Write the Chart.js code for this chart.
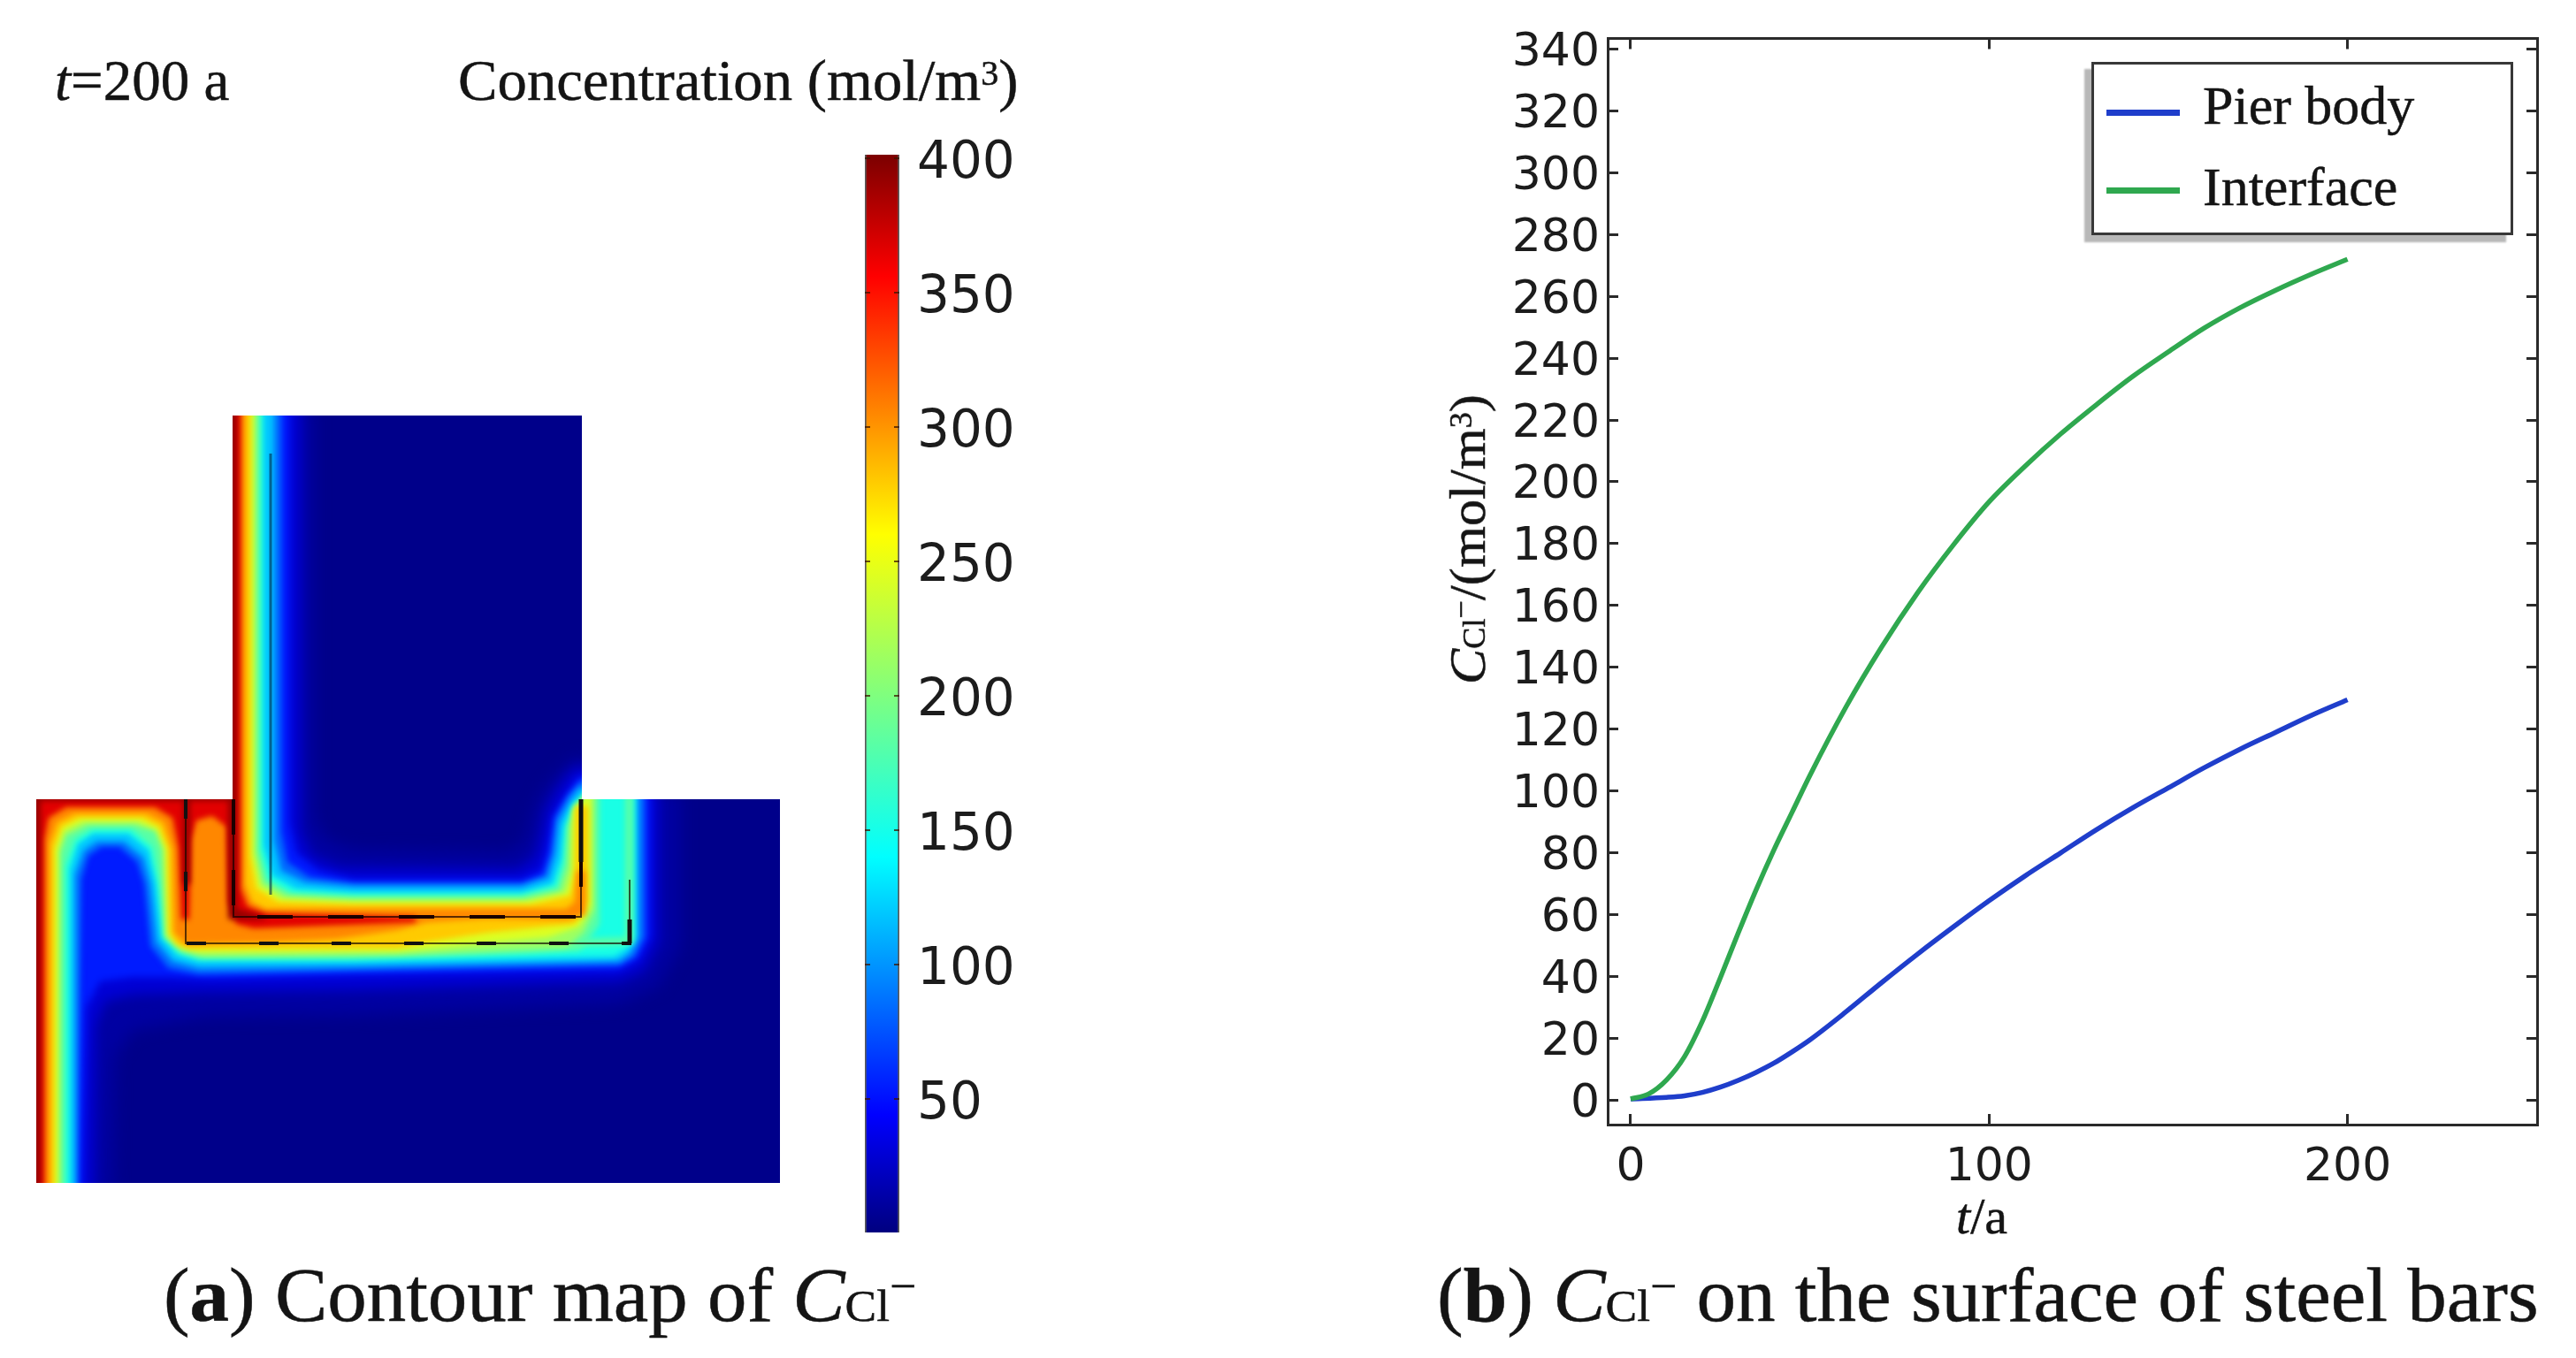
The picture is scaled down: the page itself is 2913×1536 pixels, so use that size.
<!DOCTYPE html>
<html><head><meta charset="utf-8">
<style>
html,body{margin:0;padding:0;background:#fff;width:2913px;height:1536px;overflow:hidden}
canvas{position:absolute;filter:blur(.7px)}
.t{position:absolute;font-family:"Liberation Serif",serif;color:#141414;line-height:1;white-space:nowrap;transform-origin:0 0;-webkit-text-stroke:.5px #141414;filter:blur(.5px)}
.sm{font-size:.6em}
.up{position:relative;top:-.42em;font-size:.6em}
#legend{position:absolute;left:2365px;top:70px;width:471px;height:190px;border:3px solid #383838;background:#fff;box-shadow:-8px 8px 2px #b8b8b8;z-index:5}
#legend div{position:absolute}
</style>
<script src="https://cdn.jsdelivr.net/npm/chart.js@4"></script>
</head><body>
<canvas id="contour" width="880" height="910" style="left:21px;top:450px;width:880px;height:910px"></canvas>
<canvas id="colorbar" width="260" height="1270" style="left:960px;top:150px;width:260px;height:1270px"></canvas>
<canvas id="lines" width="1263" height="1400" style="left:1650px;top:0;width:1263px;height:1400px"></canvas>
<div id="legend"></div>
<div class="t" data-x="62" data-b="113" data-s="65" data-w="197"><i>t</i>=200 a</div>
<div class="t" data-x="518" data-b="113" data-s="66" data-w="634">Concentration (mol/m<span class="up">3</span>)</div>
<div class="t" data-x="185" data-b="1494" data-s="86" data-w="851">(<b>a</b>) Contour map of <i>C</i><span class="sm">Cl</span><span class="up">−</span></div>
<div class="t" data-x="1625" data-b="1494" data-s="86" data-w="1246">(<b>b</b>) <i>C</i><span class="sm">Cl</span><span class="up">−</span> on the surface of steel bars</div>
<div class="t" data-x="2212" data-b="1396" data-s="58" data-w="58"><i>t</i>/a</div>
<div class="t" data-rot="1" data-x="1680" data-b="774" data-s="58" data-w="328"><i>C</i><span class="sm">Cl</span><span class="up">−</span>/(mol/m<span class="up">3</span>)</div>
<script>
// ---------- line chart values ----------
const seriesNames = ['Pier body', 'Interface'];
const pierT = [0,10,15,20,25,30,35,40,45,50,60,70,80,90,100,110,120,130,140,150,160,170,180,190,200];
const pierC = [0.4,0.9,1.4,2.5,4.2,6.4,9,12,15.6,19.5,28.5,38,47.2,56,64.5,72.5,80,87.5,94.5,101,107.5,113.5,119,124.5,129.5];
const interT = [0,5,10,15,20,25,30,35,40,45,50,60,70,80,90,100,110,120,130,140,150,160,170,180,190,200];
const interC = [0.4,2,6.5,14,25.5,39.5,54,68,81,93,105,127,146.5,164,179.5,193.5,205,215.5,225,234,242,249.7,256.3,262,267.2,272];
const yTickStep = 20, xTickStep = 100;

// ---------- colour bar values ----------
const barRange = [0.3, 401.3];
const barTicks = [50,100,150,200,250,300,350,400];
const jetStops = [[0,'#00007f'],[44,'#0000ff'],[140,'#00ffff'],[200,'#7fff7f'],[260,'#ffff00'],[356,'#ff0000'],[400,'#7f0000']];

// ---------- contour map: section outline and iso-concentration curves (section coordinates) ----------
const section = [[0,434],[222,434],[222,0],[617,0],[617,434],[841,434],[841,868],[0,868]];
const iso10 = [[314,-10],[314,455],[327,480],[359,492],[534,495],[554,480],[559,455],[569,430],[584,410],[604,390],[624,385],[624,425],[729,425],[729,600],[704,645],[659,665],[359,678],[189,680],[109,695],[89,725],[86,880],[-11,880],[-11,425],[214,425],[214,-10]];
const iso25 = [[299,-10],[299,470],[311,498],[344,512],[544,514],[564,500],[571,475],[577,445],[591,420],[607,400],[624,395],[624,425],[704,425],[704,595],[687,628],[659,640],[359,650],[189,652],[109,655],[78,662],[67,690],[65,880],[-11,880],[-11,425],[214,425],[214,-10]];
const iso44 = [[286,-10],[286,460],[294,495],[319,515],[359,525],[549,525],[571,515],[579,490],[584,455],[599,430],[612,410],[624,405],[624,425],[694,425],[694,590],[681,615],[659,627],[359,633],[194,637],[149,635],[109,635],[72,640],[56,670],[52,880],[-11,880],[-11,425],[214,425],[214,-10]];
const iso70 = [[277,-10],[277,470],[284,505],[309,522],[359,529],[549,529],[574,520],[582,495],[587,455],[601,430],[614,415],[624,410],[624,425],[688,425],[688,590],[677,612],[659,622],[359,628],[184,632],[149,625],[129,600],[122,530],[114,505],[94,488],[74,488],[59,498],[51,525],[47,880],[-11,880],[-11,425],[214,425],[214,-10]];
const iso100 = [[269,-10],[269,480],[277,515],[304,528],[359,533],[549,533],[579,523],[587,495],[591,460],[604,435],[614,422],[624,420],[624,425],[681,425],[681,590],[672,608],[659,617],[359,623],[184,625],[154,617],[136,595],[129,530],[121,500],[99,482],[69,482],[54,492],[44,520],[44,880],[-11,880],[-11,425],[214,425],[214,-10]];
const iso140 = [[257,-10],[257,485],[267,520],[294,535],[359,540],[549,540],[584,530],[594,500],[597,465],[607,440],[619,430],[624,425],[676,425],[676,590],[667,604],[654,612],[359,617],[184,617],[159,610],[142,590],[136,530],[127,492],[104,473],[64,473],[47,485],[38,515],[38,880],[-11,880],[-11,425],[214,425],[214,-10]];
const iso170 = [[253,-10],[253,490],[262,525],[289,540],[359,543],[549,543],[589,533],[597,505],[600,465],[609,440],[619,430],[624,425],[637,425],[637,575],[627,590],[614,605],[559,608],[359,614],[184,614],[162,607],[145,590],[139,530],[131,488],[107,468],[64,468],[44,480],[33,510],[33,880],[-11,880],[-11,425],[214,425],[214,-10]];
const iso170b = [[666,425],[675,425],[675,598],[599,602],[599,592],[666,590]];
const iso200 = [[249,-10],[249,492],[257,528],[284,543],[359,547],[549,547],[592,538],[601,510],[603,465],[611,442],[617,435],[624,425],[631,425],[631,560],[619,585],[599,602],[409,610],[189,612],[164,605],[146,590],[142,490],[134,470],[109,463],[59,463],[34,475],[27,495],[27,880],[-11,880],[-11,425],[214,425],[214,-10]];
const iso230 = [[245,-10],[245,495],[253,532],[279,547],[359,550],[554,550],[599,540],[606,515],[607,445],[616,438],[627,425],[627,555],[614,578],[579,590],[409,606],[184,607],[164,602],[149,588],[146,490],[137,468],[114,459],[54,459],[31,470],[24,492],[24,880],[-11,880],[-11,425],[214,425],[214,-10]];
const iso260 = [[242,-10],[242,498],[249,535],[274,550],[359,553],[559,553],[604,543],[609,520],[610,442],[624,442],[624,550],[609,575],[576,578],[509,585],[439,596],[409,602],[174,603],[159,598],[151,585],[149,490],[139,465],[119,455],[49,455],[29,465],[20,490],[20,880],[-11,880],[-11,425],[214,425],[214,-10]];
const iso300 = [[236,-10],[236,530],[244,550],[259,558],[599,558],[609,550],[611,515],[621,515],[621,565],[599,570],[509,569],[442,573],[409,582],[339,592],[259,596],[169,598],[156,585],[154,490],[144,460],[124,450],[44,450],[24,460],[15,485],[15,880],[-11,880],[-11,425],[214,425],[214,-10]];
const iso350 = [[231,-10],[231,535],[239,555],[259,563],[429,567],[429,573],[246,580],[226,575],[217,550],[215,465],[199,453],[181,458],[175,480],[173,570],[164,570],[161,490],[154,455],[134,443],[34,443],[14,455],[9,480],[9,880],[-11,880],[-11,425],[214,425],[214,-10]];
const iso385 = [[227,-10],[227,558],[259,567],[259,570],[217,570],[217,436],[174,436],[174,530],[166,530],[166,436],[5,436],[5,880],[-11,880],[-11,425],[214,425],[214,-10]];
const isoLevels = [[10,12,iso10],[25,30,iso25],[44,54,iso44],[70,84,iso70],[100,118,iso100],[140,152,iso140],[170,182,iso170],[170,182,iso170b],[200,214,iso200],[230,244,iso230],[260,280,iso260],[300,305,iso300],[350,366,iso350],[385,392,iso385]];
const outerBar = [[169,434],[169,597],[671,597],[671,525]];
const innerBar = [[223,434],[223,567],[616,567],[616,434]];
const pierBar = [[265,43],[265,542]];
const innerBarHeavy = [[616,434],[616,505]];
const outerBarHeavy = [[671,570],[671,597]];

function jet(v){
  const hex=c=>[1,3,5].map(i=>parseInt(c.substr(i,2),16));
  for(let i=1;i<jetStops.length;i++){
    if(v<=jetStops[i][0]){
      const a=jetStops[i-1],b=jetStops[i],k=(v-a[0])/(b[0]-a[0]),A=hex(a[1]),B=hex(b[1]);
      return 'rgb('+A.map((c,j)=>Math.round(c+(B[j]-c)*k)).join(',')+')';
    }
  }
  return jetStops[jetStops.length-1][1];
}
const pts=a=>a.map(p=>({x:p[0],y:p[1]}));
const zipXY=(x,y)=>x.map((v,i)=>({x:v,y:y[i]}));
const TICK='#2a2a2a', TXT='#1c1c1c', FONT='"DejaVu Sans"';
Chart.defaults.devicePixelRatio=1;
Chart.defaults.animation=false;

// nudges tick label rows so the digits centre on their tick marks
const labelNudge=(id,dy)=>({id:'nudge'+dy,beforeDraw(chart){
  id.forEach(k=>chart.scales[k].getLabelItems().forEach(it=>{if(!it.nudged){it.textOffset+=dy;it.nudged=true;}}));
}});

// ---------- contour ----------
const isoPlugin={id:'isoFill',
  beforeDatasetDraw(chart,args){
    const ds=chart.data.datasets[args.index];
    if(ds.isoColor===undefined) return;
    const c=chart.ctx, trace=d=>{c.beginPath();d.forEach((e,i)=>i?c.lineTo(e.x,e.y):c.moveTo(e.x,e.y));c.closePath();};
    c.save();
    trace(chart.getDatasetMeta(0).data); c.clip();
    if(ds.isoSoft) c.filter='blur('+ds.isoSoft+'px)';
    trace(args.meta.data); c.fillStyle=ds.isoColor; c.fill();
    c.restore();
    return false;
  }};
const softness=level=>level<=10?9:level<=25?7:level<=44?4:3;
const cDatasets=[{label:'Section',data:pts(section),isoColor:'#00008a',isoSoft:0,order:100}];
isoLevels.forEach((l,i)=>cDatasets.push({label:'C≥'+l[0],data:pts(l[2]),isoColor:jet(l[1]),isoSoft:softness(l[0]),order:90-i}));
const bar=(name,data,w,col,dash,o)=>({label:name,data:pts(data),borderColor:col,borderWidth:w,borderDash:dash||[],order:o});
cDatasets.push(bar('Pier bar',pierBar,3,'rgba(0,40,70,.6)',null,-1));
cDatasets.push(bar('Outer bar',outerBar,2,'rgba(20,10,0,.7)',null,-2));
cDatasets.push(bar('Inner bar',innerBar,2,'rgba(20,0,0,.7)',null,-3));
cDatasets.push(bar('Outer bar dash',outerBar,4,'#111',[22,60],-4));
cDatasets.push(bar('Inner bar dash',innerBar,4,'#1a0000',[40,40],-5));
cDatasets.push(bar('Inner bar heavy',innerBarHeavy,5,'#111',null,-6));
cDatasets.push(bar('Outer bar heavy',outerBarHeavy,5,'#111',null,-7));
new Chart(document.getElementById('contour'),{type:'scatter',plugins:[isoPlugin],
  data:{datasets:cDatasets.map(d=>Object.assign({showLine:true,pointRadius:0,fill:false,borderWidth:0,clip:false},d))},
  options:{responsive:false,layout:{padding:0},plugins:{legend:{display:false},tooltip:{enabled:false}},
    scales:{x:{type:'linear',min:-20,max:860,display:false},y:{type:'linear',min:-20,max:890,reverse:true,display:false}}}});

// ---------- colour bar ----------
const useBarTicks=s=>{s.ticks=barTicks.map(v=>({value:v}));};
new Chart(document.getElementById('colorbar'),{type:'bar',plugins:[labelNudge(['y'],7)],
  data:{labels:['Concentration'],datasets:[{data:[barRange],barPercentage:1,categoryPercentage:1,
    borderWidth:{left:2,right:2,top:0,bottom:0},borderSkipped:false,borderColor:'#5a5a5a',
    backgroundColor(ctx){
      const ch=ctx.chart; if(!ch.chartArea) return '#000';
      const y=ch.scales.y,g=ch.ctx.createLinearGradient(0,y.getPixelForValue(0),0,y.getPixelForValue(400));
      jetStops.forEach(s=>g.addColorStop(s[0]/400,s[1]));
      return g;}}]},
  options:{responsive:false,layout:{padding:{top:25,bottom:26,left:18}},plugins:{legend:{display:false},tooltip:{enabled:false}},
    scales:{
      x:{display:false},
      y:{position:'right',min:barRange[0],max:barRange[1],afterBuildTicks:useBarTicks,afterFit:s=>{s.width=203;s.paddingTop=0;s.paddingBottom=0;},
        grid:{drawOnChartArea:false,drawTicks:true,tickLength:-6,color:'rgba(60,20,0,.75)',lineWidth:2,z:1},
        border:{display:false},
        ticks:{padding:26,color:TXT,autoSkip:false,maxRotation:0,font:{family:FONT,size:58}}},
      y2:{position:'left',min:barRange[0],max:barRange[1],afterBuildTicks:useBarTicks,afterFit:s=>{s.width=0;s.paddingTop=0;s.paddingBottom=0;},
        grid:{drawOnChartArea:false,drawTicks:true,tickLength:-6,color:'rgba(60,20,0,.75)',lineWidth:2,z:1},
        border:{display:false},
        ticks:{display:false}}}}});

// ---------- curves ----------
const lineColors=['#1f3ecb','#2fa84f'];
const xr={min:-6.4,max:252.9}, yr={min:-7.9,max:343.4};
const gridOpt={drawOnChartArea:false,drawTicks:true,tickLength:-12,color:TICK,lineWidth:3};
const bord={display:true,color:TICK,width:3};
const lineChart=new Chart(document.getElementById('lines'),{type:'scatter',plugins:[labelNudge(['y'],5)],
  data:{datasets:[
    {label:seriesNames[0],data:zipXY(pierT,pierC),borderColor:lineColors[0],backgroundColor:lineColors[0],order:1},
    {label:seriesNames[1],data:zipXY(interT,interC),borderColor:lineColors[1],backgroundColor:lineColors[1],order:0}
  ].map(d=>Object.assign({showLine:true,pointRadius:0,borderWidth:5.5,cubicInterpolationMode:'monotone',fill:false},d))},
  options:{responsive:false,layout:{padding:{top:43.5,right:44,left:0,bottom:0}},plugins:{legend:{display:false},tooltip:{enabled:false}},
    scales:{
      x:{type:'linear',position:'bottom',min:xr.min,max:xr.max,afterFit:s=>{s.height=128;s.paddingLeft=0;s.paddingRight=0;},grid:gridOpt,border:bord,
        ticks:{stepSize:xTickStep,includeBounds:false,padding:30,color:TXT,maxRotation:0,autoSkip:false,font:{family:FONT,size:52}}},
      x2:{type:'linear',position:'top',min:xr.min,max:xr.max,afterFit:s=>{s.height=0;s.paddingLeft=0;s.paddingRight=0;},grid:gridOpt,border:bord,
        ticks:{stepSize:xTickStep,includeBounds:false,display:false}},
      y:{type:'linear',position:'left',min:yr.min,max:yr.max,afterFit:s=>{s.width=168;s.paddingTop=0;s.paddingBottom=0;},grid:gridOpt,border:bord,
        ticks:{stepSize:yTickStep,includeBounds:false,padding:21,color:TXT,autoSkip:false,maxRotation:0,font:{family:FONT,size:52}}},
      y2:{type:'linear',position:'right',min:yr.min,max:yr.max,afterFit:s=>{s.width=0;s.paddingTop=0;s.paddingBottom=0;},grid:gridOpt,border:bord,
        ticks:{stepSize:yTickStep,includeBounds:false,display:false}}}}});

// ---------- legend from the chart's datasets ----------
const lg=document.getElementById('legend');
lineChart.data.datasets.forEach((d,i)=>{
  const m=document.createElement('div');
  m.style.cssText='left:14px;top:'+(51+i*88)+'px;width:83px;height:7px;background:'+d.borderColor;
  lg.appendChild(m);
  const t=document.createElement('div');
  t.className='t';t.textContent=d.label;
  t.style.cssText='left:123px;top:'+(15+i*92)+'px;font-size:62px';
  lg.appendChild(t);
});

// ---------- place text by baseline and fit widths ----------
document.querySelectorAll('body > .t').forEach(e=>{
  const s=+e.dataset.s,x=+e.dataset.x,b=+e.dataset.b,w=+e.dataset.w;
  e.style.fontSize=s+'px';
  const k=w/e.offsetWidth;
  if(e.dataset.rot){
    e.style.left=(x-.8375*s)+'px';e.style.top=b+'px';
    e.style.transform='rotate(-90deg) scaleX('+k+')';
  }else{
    e.style.left=x+'px';e.style.top=(b-.8375*s)+'px';
    e.style.transform='scaleX('+k+')';
  }
});
</script>
</body></html>
